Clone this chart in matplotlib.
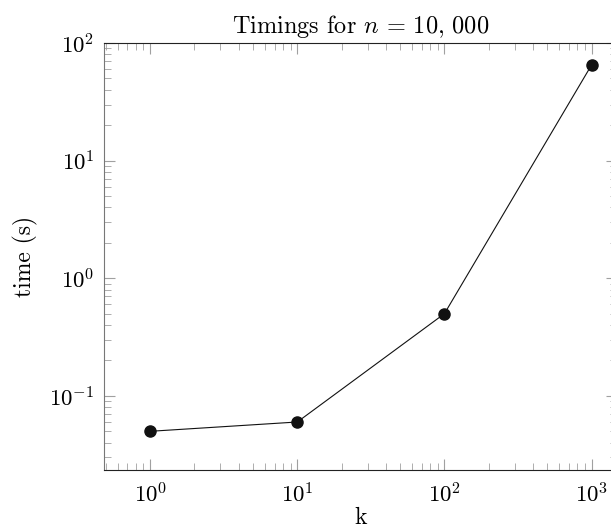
import matplotlib
matplotlib.use("Agg")
import matplotlib.pyplot as plt
import numpy as np

plt.rcParams["font.family"] = "serif"
plt.rcParams["font.serif"] = ["cmr10"]
plt.rcParams["mathtext.fontset"] = "cm"
plt.rcParams["axes.formatter.use_mathtext"] = True

# Messwerte
k = [1, 10, 100, 1000]
zeit = [0.05, 0.06, 0.5, 65]

fig = plt.figure(figsize=(6.11, 5.31), dpi=100)
ax = fig.add_axes([104 / 611, 1 - 470 / 531, (617 - 104) / 611, (470 - 43) / 531])

ax.plot(k, zeit, color="#111111", linewidth=0.8, marker="o", markersize=8)

ax.set_xscale("log")
ax.set_yscale("log")
ax.set_xlim(10 ** -0.314, 10 ** 3.173)
ax.set_ylim(10 ** -1.63, 100)

ax.tick_params(which="both", direction="in", top=True, right=True, color="#a0a0a0",
               labelsize=16.5)
ax.tick_params(which="major", length=8)
ax.tick_params(which="minor", length=5)
ax.tick_params(axis="x", pad=9)
ax.tick_params(axis="y", pad=7)
for s in ["left", "right"]:
    ax.spines[s].set_color("#777777")
for s in ["top", "bottom"]:
    ax.spines[s].set_color("#222222")

ax.set_xlabel("k", fontsize=17, labelpad=0)
ax.set_ylabel("time (s)", fontsize=17, labelpad=8)
ax.set_title(r"Timings for $n\,=\,10,\,000$", fontsize=17.5, pad=7)

fig.savefig("out.png", dpi=100)
